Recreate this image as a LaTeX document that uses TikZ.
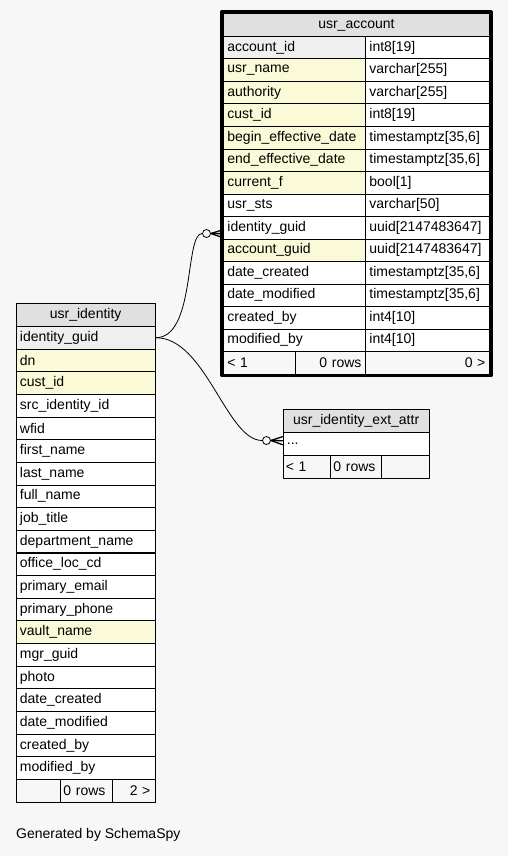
\documentclass[tikz,border=0pt]{standalone}
\usepackage{fontspec}
\setmainfont{Liberation Sans}
\usetikzlibrary{fit}
\definecolor{bg}{HTML}{F7F7F7}
\definecolor{headc}{HTML}{E0E0E0}
\definecolor{keyc}{HTML}{EFEFEF}
\definecolor{idxc}{HTML}{FAFAD8}
\begin{document}
\begin{tikzpicture}[x=1pt,y=-1pt,font=\fontsize{14}{16}\selectfont, line join=round, line cap=round,
	cell/.style={draw,line width=0.8pt,anchor=north west,minimum height=22.6pt,inner xsep=4pt,inner ysep=0pt,align=left},
	rcell/.style={cell,align=right},
	headcell/.style={draw,line width=0.8pt,fill=headc,anchor=north west,minimum height=23pt,inner sep=0pt},
	odot/.style={circle,draw,line width=0.8pt,fill=bg,inner sep=0pt,minimum size=8pt},
	crow/.style={line width=1.3pt}]
	\fill[bg] (0,0) rectangle (508,856);
	% usr_account
	\node[headcell,minimum width=266pt] (acc-h) at (223,13) {usr\_account};
	\foreach \n/\t/\c [count=\i] in {account\_id/int8[19]/keyc, usr\_name/varchar[255]/idxc,
		authority/varchar[255]/idxc, cust\_id/int8[19]/idxc, begin\_effective\_date/{timestamptz[35,6]}/idxc,
		end\_effective\_date/{timestamptz[35,6]}/idxc, current\_f/bool[1]/idxc, usr\_sts/varchar[50]/white,
		identity\_guid/uuid[2147483647]/white, account\_guid/uuid[2147483647]/idxc,
		date\_created/{timestamptz[35,6]}/white, date\_modified/{timestamptz[35,6]}/white,
		created\_by/int4[10]/white, modified\_by/int4[10]/white}{
		\node[cell,fill=\c,text width=134pt] (acc-\i) at (223,{36+(\i-1)*22.5}) {\n};
		\node[cell,fill=white,text width=116pt] (acct-\i) at (365,{36+(\i-1)*22.5}) {\t};}
	\node[cell,text width=64pt] (accf-1) at (223,351) {< 1};
	\node[rcell,text width=62pt] (accf-2) at (295,351) {0 rows};
	\node[rcell,text width=116pt] (accf-3) at (365,351) {0 >};
	\node[draw,line width=2.6pt,fit=(acc-h)(accf-3),inner sep=1.4pt] (acc-box) {};
	% usr_identity
	\node[headcell,minimum width=139.5pt] (idn-h) at (15.5,303) {usr\_identity};
	\foreach \n/\c [count=\i] in {identity\_guid/keyc, dn/idxc, cust\_id/idxc, src\_identity\_id/white,
		wfid/white, first\_name/white, last\_name/white, full\_name/white, job\_title/white,
		department\_name/white, office\_loc\_cd/white, primary\_email/white, primary\_phone/white,
		vault\_name/idxc, mgr\_guid/white, photo/white, date\_created/white, date\_modified/white,
		created\_by/white, modified\_by/white}{
		\node[cell,fill=\c,text width=131.5pt] (idn-\i) at (15.5,{326+(\i-1)*22.65}) {\n};}
	\node[cell,text width=36.5pt] (idnf-1) at (15.5,779) {};
	\node[cell,inner xsep=3pt,text width=46pt] (idnf-2) at (60,779) {0 rows};
	\node[rcell,inner xsep=5pt,text width=33pt] (idnf-3) at (112,779) {2 >};
	% usr_identity_ext_attr
	\node[headcell,minimum width=146.5pt] (ext-h) at (282.5,409) {usr\_identity\_ext\_attr};
	\node[cell,fill=white,text width=138.5pt] (ext-1) at (282.5,432) {...};
	\node[cell,inner xsep=3pt,text width=41.5pt] (extf-1) at (282.5,455) {< 1};
	\node[cell,inner xsep=3pt,text width=45pt] (extf-2) at (330,455) {0 rows};
	\node[cell,text width=40pt] (extf-3) at (381,455) {};
	% relations
	\node[odot] (o1) at (206.5,233.5) {};
	\node[odot] (o2) at (266.5,440.5) {};
	\draw[line width=0.8pt] (idn-1.east) .. controls +(40,0) and +(-22,0) .. (o1);
	\draw[line width=0.8pt] (idn-1.east) .. controls +(50,0) and +(-40,0) .. (o2);
	\foreach \s in {-2,-6,-10}{
		\draw[crow] (o1.east) -- ([yshift=\s pt]acc-9.west);}
	\foreach \s in {7,3,-1}{
		\draw[crow] (o2.east) -- ([yshift=\s pt]ext-1.west);}
	\node[anchor=west,inner sep=0pt] (gen) at (16,835) {Generated by SchemaSpy};
\end{tikzpicture}
\end{document}
